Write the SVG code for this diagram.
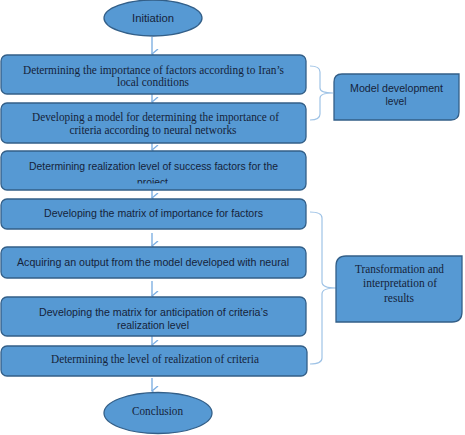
<svg xmlns="http://www.w3.org/2000/svg" width="465" height="435" viewBox="0 0 465 435">
<style>
.box{fill:#5699d3;stroke:#335f88;stroke-width:1.3}
.serif{font-family:"Liberation Serif","Times New Roman",serif;font-size:13px;fill:#15233a}
.s12{font-size:12px}
.sans{font-family:"Liberation Sans",Arial,sans-serif;font-size:11.5px;fill:#15233a}
.t{text-anchor:middle}
.arrow{fill:none;stroke:#7fb0e2;stroke-width:1.4}
.brace{fill:none;stroke:#9fc3e6;stroke-width:1.2}
</style>
<defs>
<marker id="chev" markerWidth="12" markerHeight="8" refX="5.5" refY="6.5" orient="auto-start-reverse" markerUnits="userSpaceOnUse" viewBox="0 0 12 8">
<path d="M0.5,0.5 L5.5,6.5 L10.5,0.5" fill="none" stroke="#7fb0e2" stroke-width="1.4"/>
</marker>
<clipPath id="clip3"><rect x="0" y="150" width="310" height="33.5"/></clipPath>
</defs>
<rect width="465" height="435" fill="#ffffff"/>
<g id="connectors">
<line class="arrow" x1="152" y1="37" x2="152" y2="54" marker-end="url(#chev)"/>
<line class="arrow" x1="152" y1="94" x2="152" y2="102" marker-end="url(#chev)"/>
<line class="arrow" x1="152" y1="143" x2="152" y2="150" marker-end="url(#chev)"/>
<line class="arrow" x1="152" y1="190" x2="152" y2="198" marker-end="url(#chev)"/>
<line class="arrow" x1="152" y1="233" x2="152" y2="246" marker-end="url(#chev)"/>
<line class="arrow" x1="152" y1="281" x2="152" y2="296" marker-end="url(#chev)"/>
<line class="arrow" x1="152" y1="336" x2="152" y2="345" marker-end="url(#chev)"/>
<line class="arrow" x1="152" y1="378" x2="152" y2="391" marker-end="url(#chev)"/>
<path class="brace" d="M310,66 Q320,66 320,72 L320,88 Q320,93 333,93 Q320,93 320,98 L320,114 Q320,120 310,120"/>
<path class="brace" d="M310,212 Q322,212 322,218 L322,282 Q322,288 336,288 Q322,288 322,294 L322,358 Q322,364 310,364"/>
</g>
<g id="initiation">
<ellipse class="box" cx="153" cy="18" rx="49" ry="18"/>
<text class="sans t" x="153" y="21.5" textLength="42" lengthAdjust="spacingAndGlyphs">Initiation</text>
</g>
<g id="step1">
<rect class="box" x="1" y="55" width="305" height="39" rx="6"/>
<text class="serif s12 t" x="153.5" y="73.5" textLength="261" lengthAdjust="spacingAndGlyphs">Determining the importance of factors according to Iran’s</text>
<text class="serif s12 t" x="153" y="86" textLength="72" lengthAdjust="spacingAndGlyphs">local conditions</text>
</g>
<g id="step2">
<rect class="box" x="1" y="103" width="305" height="40" rx="6"/>
<text class="serif s12 t" x="155.5" y="120.5" textLength="247" lengthAdjust="spacingAndGlyphs">Developing a model for determining the importance of</text>
<text class="serif s12 t" x="153" y="133.5" textLength="167" lengthAdjust="spacingAndGlyphs">criteria according to neural networks</text>
</g>
<g id="step3">
<rect class="box" x="1" y="151" width="305" height="39" rx="6"/>
<g clip-path="url(#clip3)">
<text class="sans t" x="153.5" y="169.5" textLength="249" lengthAdjust="spacingAndGlyphs">Determining realization level of success factors for the</text>
<text class="sans t" x="152.5" y="186" textLength="31" lengthAdjust="spacingAndGlyphs">project</text>
</g>
</g>
<g id="step4">
<rect class="box" x="1" y="199" width="305" height="30" rx="6"/>
<text class="sans t" x="153.5" y="217" textLength="219" lengthAdjust="spacingAndGlyphs">Developing the matrix of importance for factors</text>
</g>
<g id="step5">
<rect class="box" x="1" y="247" width="305" height="31" rx="6"/>
<text class="sans t" x="153" y="265.5" textLength="272" lengthAdjust="spacingAndGlyphs">Acquiring an output from the model developed with neural</text>
</g>
<g id="step6">
<rect class="box" x="1" y="297" width="305" height="39" rx="6"/>
<text class="sans t" x="153.5" y="315.5" textLength="229" lengthAdjust="spacingAndGlyphs">Developing the matrix for anticipation of criteria’s</text>
<text class="sans t" x="153" y="328.5" textLength="72" lengthAdjust="spacingAndGlyphs">realization level</text>
</g>
<g id="step7">
<rect class="box" x="1" y="346" width="306" height="30" rx="6"/>
<text class="serif t" x="155" y="363" textLength="208" lengthAdjust="spacingAndGlyphs">Determining the level of realization of criteria</text>
</g>
<g id="conclusion">
<ellipse class="box" cx="158" cy="413" rx="54" ry="20.5"/>
<text class="serif t" x="157.5" y="415" textLength="51" lengthAdjust="spacingAndGlyphs">Conclusion</text>
</g>
<g id="model-development">
<path class="box" d="M342,74 L459,74 L459,112 Q459,120 451,120 L334,120 L334,82 Q334,74 342,74 Z"/>
<text class="sans t" x="396.5" y="92" textLength="93" lengthAdjust="spacingAndGlyphs">Model development</text>
<text class="sans t" x="396" y="105" textLength="21" lengthAdjust="spacingAndGlyphs">level</text>
</g>
<g id="transformation">
<path class="box" d="M346,256 L462,256 L462,312 Q462,322 452,322 L336,322 L336,266 Q336,256 346,256 Z"/>
<text class="serif t" x="399.5" y="272.5" textLength="89" lengthAdjust="spacingAndGlyphs">Transformation and</text>
<text class="serif t" x="400" y="287" textLength="74" lengthAdjust="spacingAndGlyphs">interpretation of</text>
<text class="serif t" x="399" y="301.5" textLength="30" lengthAdjust="spacingAndGlyphs">results</text>
</g>
</svg>
